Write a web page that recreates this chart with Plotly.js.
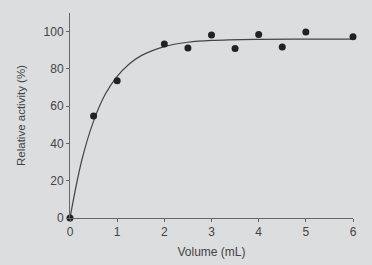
<!DOCTYPE html>
<html>
<head>
<meta charset="utf-8">
<script src="https://cdn.plot.ly/plotly-3.0.1.min.js"></script>
<style>
html,body{margin:0;padding:0;background:#dcdddf;}
#chart{width:372px;height:265px;}
</style>
</head>
<body>
<div id="chart"></div>
<script>
const volume = [0, 0.5, 1, 2, 2.5, 3, 3.5, 4, 4.5, 5, 6];
const activity = [0, 54.7, 73.7, 93.4, 91.2, 98.2, 90.9, 98.4, 91.8, 99.8, 97.3];
const fitVolume = [0, 0.25, 0.5, 0.75, 1, 1.25, 1.5, 2, 2.5, 3, 4, 5, 6];
const fitActivity = [0, 31, 52, 66.5, 76, 82.5, 87, 92, 94.3, 95.3, 95.9, 96, 96];
const xTicks = [0, 1, 2, 3, 4, 5, 6];
const yTicks = [0, 20, 40, 60, 80, 100];

const axisColor = '#666';
const textColor = '#444';

Plotly.newPlot('chart', [
  {
    x: fitVolume, y: fitActivity, mode: 'lines', type: 'scatter',
    line: {color: '#444', width: 1.2, shape: 'spline', smoothing: 1},
    hoverinfo: 'skip', cliponaxis: false
  },
  {
    x: volume, y: activity, mode: 'markers', type: 'scatter',
    marker: {color: '#222', size: 7},
    cliponaxis: false
  }
], {
  width: 372, height: 265,
  margin: {l: 70, r: 19, t: 13, b: 47},
  paper_bgcolor: '#dcdddf', plot_bgcolor: '#dcdddf',
  showlegend: false,
  font: {family: 'Liberation Sans, Arial, sans-serif', color: textColor, size: 12},
  xaxis: {
    range: [0, 6], tickvals: xTicks, ticks: 'outside', ticklen: 3, tickcolor: axisColor,
    showline: true, linecolor: axisColor, linewidth: 1, showgrid: false, zeroline: false,
    title: {text: 'Volume (mL)', font: {size: 12, color: textColor}, standoff: 9},
    tickfont: {size: 12, color: textColor}
  },
  yaxis: {
    range: [0, 110], tickvals: yTicks, ticks: 'outside', ticklen: 3, tickcolor: axisColor,
    showline: true, linecolor: axisColor, linewidth: 1, showgrid: false, zeroline: false,
    title: {text: 'Relative activity (%)', font: {size: 11.5, color: textColor}, standoff: 15},
    tickfont: {size: 12, color: textColor}
  }
}, {displayModeBar: false, staticPlot: true});
</script>
</body>
</html>
